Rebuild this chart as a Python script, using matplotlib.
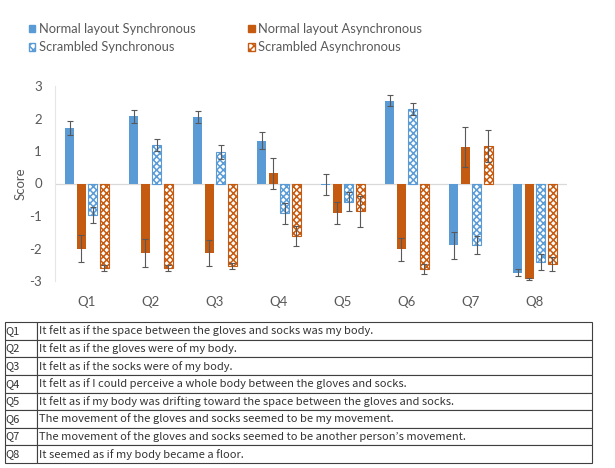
import matplotlib.pyplot as plt
from matplotlib.patches import Patch
import numpy as np

questions = ['Q1', 'Q2', 'Q3', 'Q4', 'Q5', 'Q6', 'Q7', 'Q8']

normal_sync = [1.71, 2.07, 2.04, 1.32, -0.04, 2.55, -1.90, -2.74]
normal_sync_err = [0.22, 0.20, 0.18, 0.26, 0.32, 0.16, 0.42, 0.12]
normal_async = [-2.00, -2.13, -2.13, 0.31, -0.92, -2.03, 1.12, -2.94]
normal_async_err = [0.43, 0.43, 0.40, 0.49, 0.34, 0.35, 0.62, 0.03]
scram_sync = [-0.98, 1.19, 0.96, -0.92, -0.56, 2.29, -1.89, -2.41]
scram_sync_err = [0.25, 0.19, 0.21, 0.32, 0.29, 0.19, 0.29, 0.24]
scram_async = [-2.60, -2.60, -2.54, -1.61, -0.86, -2.62, 1.15, -2.48]
scram_async_err = [0.09, 0.09, 0.10, 0.31, 0.47, 0.15, 0.49, 0.22]

descriptions = [
    'It felt as if the space between the gloves and socks was my body.',
    'It felt as if the gloves were of my body.',
    'It felt as if the socks were of my body.',
    'It felt as if I could perceive a whole body between the gloves and socks.',
    'It felt as if my body was drifting toward the space between the gloves and socks.',
    'The movement of the gloves and socks seemed to be my movement.',
    'The movement of the gloves and socks seemed to be another person\u2019s movement.',
    'It seemed as if my body became a floor.',
]

blue = '#5B9BD5'
orange = '#C55A11'
grey = '#595959'

plt.rcParams['font.family'] = ['Lato', 'DejaVu Sans']
plt.rcParams['hatch.linewidth'] = 1.1
plt.rcParams['axes.unicode_minus'] = False

fig = plt.figure(figsize=(6.15, 4.68), dpi=100)
ax = fig.add_axes([55 / 615, 1 - 281 / 468, 512 / 615, 195 / 468])

x = np.arange(len(questions))
w = 0.14
step = 0.18
err_kw = dict(ecolor='#595959', elinewidth=0.8, capsize=2, capthick=0.8)

ax.bar(x - 1.5 * step, normal_sync, w, color=blue, yerr=normal_sync_err,
       error_kw=err_kw, zorder=2)
ax.bar(x - 0.5 * step, normal_async, w, color=orange, yerr=normal_async_err,
       error_kw=err_kw, zorder=2)
ax.bar(x + 0.5 * step, scram_sync, w, color='white', edgecolor=blue,
       hatch='xxxxx', linewidth=0.8, yerr=scram_sync_err, error_kw=err_kw, zorder=2)
ax.bar(x + 1.5 * step, scram_async, w, color='white', edgecolor=orange,
       hatch='xxxxx', linewidth=0.8, yerr=scram_async_err, error_kw=err_kw, zorder=2)

ax.axhline(0, color='#D9D9D9', linewidth=0.9, zorder=1)
ax.set_xlim(-0.5, 7.5)
ax.set_ylim(-3, 3)
ax.set_yticks([-3, -2, -1, 0, 1, 2, 3])
ax.set_xticks(x)
ax.set_xticklabels(questions)
ax.tick_params(axis='both', length=0, colors=grey, labelsize=9.5)
ax.tick_params(axis='y', pad=9.5)
ax.tick_params(axis='x', pad=11)
ax.set_ylabel('Score', color=grey, fontsize=9.5, labelpad=2)
for s in ['top', 'right', 'bottom']:
    ax.spines[s].set_visible(False)
ax.spines['left'].set_color('#E6E6E6')

handles = [
    Patch(facecolor=blue, edgecolor=blue, label='Normal layout Synchronous'),
    Patch(facecolor='white', edgecolor=blue, hatch='xxxx', label='Scrambled Synchronous'),
    Patch(facecolor=orange, edgecolor=orange, label='Normal layout Asynchronous'),
    Patch(facecolor='white', edgecolor=orange, hatch='xxxx', label='Scrambled Asynchronous'),
]
leg = fig.legend(handles=handles, ncol=2, loc='upper left',
                 bbox_to_anchor=(29 / 615, 1 - 23 / 468), frameon=False,
                 fontsize=9.3, handlelength=0.5, handleheight=0.5,
                 handletextpad=0.25, columnspacing=4.1, labelspacing=0.5,
                 borderpad=0, borderaxespad=0)
for t in leg.get_texts():
    t.set_color(grey)

# question table
tax = fig.add_axes([5 / 615, 1 - 463 / 468, 587 / 615, 141 / 468])
tax.axis('off')
cells = [[q, d] for q, d in zip(questions, descriptions)]
tbl = tax.table(cellText=cells, colWidths=[32 / 587, 555 / 587],
                cellLoc='left', bbox=[0, 0, 1, 1])
tbl.auto_set_font_size(False)
for (r, c), cell in tbl.get_celld().items():
    cell.set_edgecolor('#404040')
    cell.set_linewidth(0.8)
    cell.PAD = 0.02 if c == 0 else 0.003
    cell.get_text().set_fontsize(8)
    cell.get_text().set_color('#333333')
    cell.get_text().set_family(['Noto Sans CJK JP', 'DejaVu Sans'])

fig.savefig('out.png', dpi=100)
